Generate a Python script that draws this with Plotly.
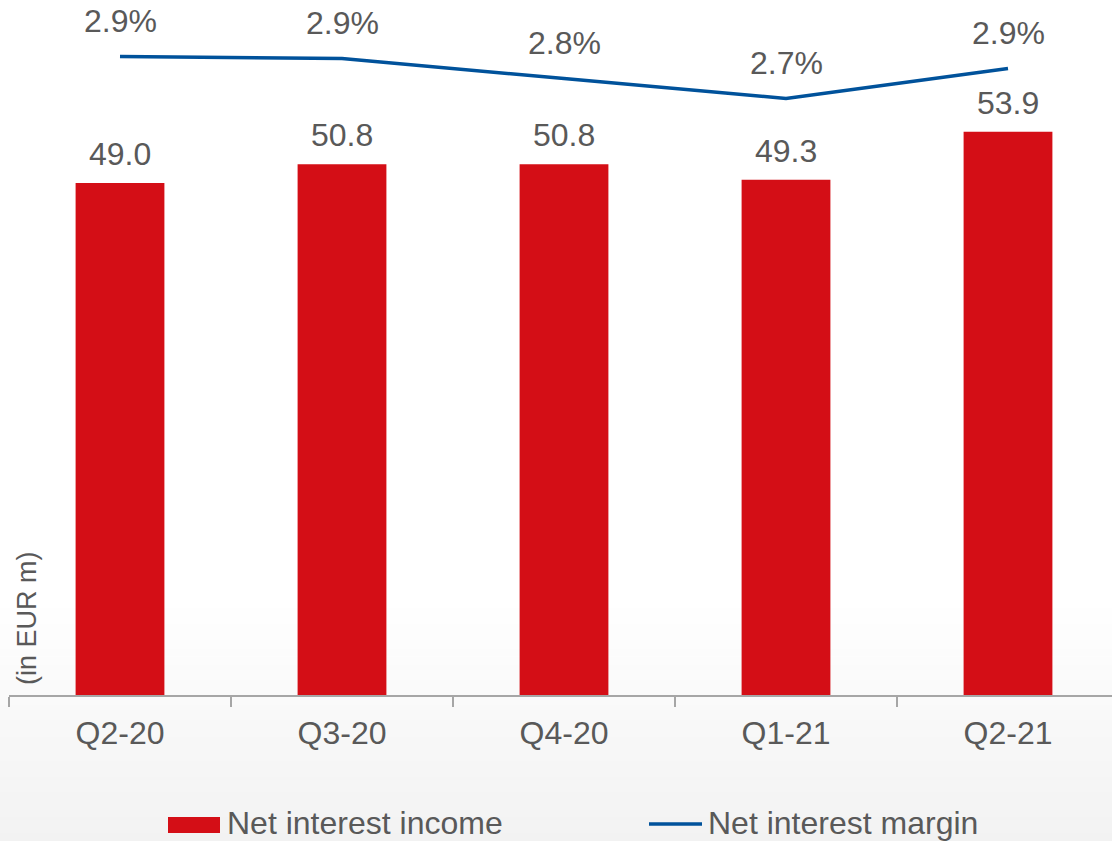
import plotly.graph_objects as go

categories = ["Q2-20", "Q3-20", "Q4-20", "Q1-21", "Q2-21"]
net_interest_income = [49.0, 50.8, 50.8, 49.3, 53.9]
net_interest_margin = [2.93, 2.92, 2.82, 2.72, 2.87]
legend_labels = ["Net interest income", "Net interest margin"]
unit_label = "(in EUR m)"

RED = "#d40e16"
BLUE = "#00529b"
GREY = "#595959"
FONT = "Liberation Sans, Arial, sans-serif"
FS = 32

W, H = 1112, 841
ML, MR, MT, MB = 9, 0, 0, 146
PH = H - MT - MB

fig = go.Figure()
fig.add_trace(go.Bar(x=categories, y=net_interest_income, marker=dict(color=RED, line=dict(width=0)),
                     name=legend_labels[0], showlegend=False, hoverinfo="skip"))
fig.add_trace(go.Scatter(x=categories, y=net_interest_margin, mode="lines", yaxis="y2",
                         line=dict(color=BLUE, width=3.5), name=legend_labels[1],
                         showlegend=False, hoverinfo="skip"))


def px_to_paper_y(py):
    return (MT + PH - py) / PH


def px_to_paper_x(px):
    return (px - ML) / (W - ML - MR)


anns = []
for c, v in zip(categories, net_interest_income):
    anns.append(dict(x=c, y=v, xref="x", yref="y", text=f"{v:.1f}", showarrow=False,
                     yanchor="bottom", yshift=9, font=dict(size=FS, color=GREY, family=FONT)))
for c, v in zip(categories, net_interest_margin):
    anns.append(dict(x=c, y=v, xref="x", yref="y2", text=f"{v:.1f}%", showarrow=False,
                     yanchor="bottom", yshift=16, font=dict(size=FS, color=GREY, family=FONT)))

# unit label
anns.append(dict(x=px_to_paper_x(27), y=0, xref="paper", yref="y", text=unit_label, textangle=-90,
                 showarrow=False, xanchor="center", yanchor="bottom", yshift=8,
                 font=dict(size=27, color=GREY, family=FONT)))

shapes = []
# background gradient (bottom)
N = 30
y0p, y1p = 600, H
for i in range(N):
    a = y0p + (y1p - y0p) * i / N
    b = y0p + (y1p - y0p) * (i + 1) / N
    t = (i + 0.5) / N
    g = int(round(255 - 13 * t))
    shapes.append(dict(type="rect", xref="paper", yref="paper",
                       x0=px_to_paper_x(0), x1=px_to_paper_x(W),
                       y0=px_to_paper_y(b + 0.5), y1=px_to_paper_y(a),
                       fillcolor=f"rgb({g},{g},{g})", line=dict(width=0), layer="below"))

# custom legend
leg_y = 824
shapes.append(dict(type="rect", xref="paper", yref="paper",
                   x0=px_to_paper_x(168), x1=px_to_paper_x(220),
                   y0=px_to_paper_y(833), y1=px_to_paper_y(817),
                   fillcolor=RED, line=dict(width=0)))
shapes.append(dict(type="line", xref="paper", yref="paper",
                   x0=px_to_paper_x(649), x1=px_to_paper_x(702),
                   y0=px_to_paper_y(leg_y), y1=px_to_paper_y(leg_y),
                   line=dict(color=BLUE, width=3.5)))
anns.append(dict(x=px_to_paper_x(225), y=px_to_paper_y(leg_y - 1), xref="paper", yref="paper",
                 text=legend_labels[0], showarrow=False, xanchor="left", yanchor="middle",
                 font=dict(size=FS, color=GREY, family=FONT)))
anns.append(dict(x=px_to_paper_x(706), y=px_to_paper_y(leg_y - 1), xref="paper", yref="paper",
                 text=legend_labels[1], showarrow=False, xanchor="left", yanchor="middle",
                 font=dict(size=FS, color=GREY, family=FONT)))

cat_w = 222.0
x_span = (W - ML - MR) / cat_w
y_px_per_unit = 512 / 49.0
y_top = PH / y_px_per_unit
y2_px_per_unit = 200.0
y2_top = 2.93 + 56.5 / y2_px_per_unit
y2_bot = y2_top - PH / y2_px_per_unit

fig.update_layout(
    width=W, height=H,
    margin=dict(l=ML, r=MR, t=MT, b=MB, pad=0),
    paper_bgcolor="white", plot_bgcolor="rgba(0,0,0,0)",
    bargap=0.6,
    showlegend=False,
    font=dict(family=FONT, color=GREY, size=FS),
    xaxis=dict(range=[-0.5, -0.5 + x_span], showline=True, linecolor="#a6a6a6", linewidth=1.5,
               ticks="outside", tickson="boundaries", ticklen=10, tickcolor="#a6a6a6", tickwidth=1.5,
               ticklabelstandoff=9,
               showgrid=False, zeroline=False, tickfont=dict(size=FS, color=GREY, family=FONT),
               fixedrange=True),
    yaxis=dict(range=[0, y_top], visible=False, showgrid=False, zeroline=False, fixedrange=True),
    yaxis2=dict(range=[y2_bot, y2_top], overlaying="y", visible=False, showgrid=False, zeroline=False,
                fixedrange=True),
    annotations=anns,
    shapes=shapes,
)

fig.write_html("out.html", config={"displayModeBar": False, "staticPlot": True},
               post_script="document.body.style.margin='0px';document.body.style.overflow='hidden';")
